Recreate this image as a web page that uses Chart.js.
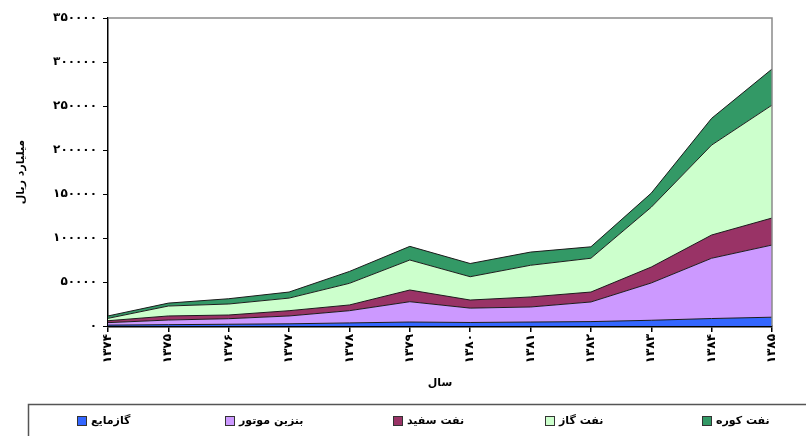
<!DOCTYPE html>
<html><head><meta charset="utf-8">
<script src="https://cdn.jsdelivr.net/npm/chart.js@4.4.1/dist/chart.umd.min.js"></script>
<style>html,body{margin:0;padding:0;background:#fff}#wrap{width:806px;height:436px;position:relative}</style>
</head><body><div id="wrap"><canvas id="c" width="806" height="436"></canvas></div>
<script>
// ---- data ----
const years = ['۱۳۷۴','۱۳۷۵','۱۳۷۶','۱۳۷۷','۱۳۷۸','۱۳۷۹','۱۳۸۰','۱۳۸۱','۱۳۸۲','۱۳۸۳','۱۳۸۴','۱۳۸۵'];
const seriesNames = ['گازمایع','بنزین موتور','نفت سفید','نفت گاز','نفت کوره'];
const lpg      = [1000,1500,2000,2500,3500,4500,4000,4500,5000,6500,8500,10000];
const gasoline = [2800,5300,6300,8900,13900,23100,16300,17100,22300,42400,68500,82000];
const kerosene = [2200,4600,4200,6000,6500,13300,9200,11400,11300,18100,26400,30700];
const gasoil   = [2700,11300,12500,14300,24600,34100,26500,36000,38400,68000,102200,128300];
const fuelOil  = [2700,3300,6000,6900,13500,15500,15000,15000,13000,16000,30400,41000];
const yTicks   = [0,50000,100000,150000,200000,250000,300000,350000];
const yTitle = 'میلیارد ریال';
const xTitle = 'سال';

const fa = s => String(s).replace(/\d/g, d => '۰۱۲۳۴۵۶۷۸۹'[d]);
const colors = ['#3366ff','#cc99ff','#993366','#ccffcc','#339966'];
const values = [lpg, gasoline, kerosene, gasoil, fuelOil];
const FONT = '"DejaVu Sans", Arial, sans-serif';

const datasets = values.map((v,i)=>({
  label: seriesNames[i], data: v,
  backgroundColor: colors[i], borderColor: '#1c1c1c', borderWidth: 1,
  fill: i===0 ? 'origin' : '-1', pointRadius: 0, tension: 0
}));

const framePlugin = {
  id: 'frame',
  afterDatasetsDraw(chart){
    const {ctx, chartArea:a} = chart;
    ctx.save();
    ctx.strokeStyle = '#8a8a8a'; ctx.lineWidth = 1.5;
    ctx.beginPath(); ctx.moveTo(a.left, a.top); ctx.lineTo(a.right, a.top); ctx.lineTo(a.right, a.bottom); ctx.stroke();
    ctx.restore();
  },
  afterDraw(chart){
    const ctx = chart.ctx;
    ctx.save();
    ctx.strokeStyle = '#555'; ctx.lineWidth = 1.5;
    ctx.strokeRect(28.5, 404.5, 800, 40);
    const xs = [77, 225, 393, 545, 702];
    const y = 421;
    ctx.font = 'bold 11px ' + FONT;
    ctx.textBaseline = 'middle'; ctx.textAlign = 'left';
    chart.data.datasets.forEach((ds,i)=>{
      ctx.fillStyle = ds.backgroundColor;
      ctx.fillRect(xs[i], y-5, 9, 9);
      ctx.strokeStyle = '#333'; ctx.lineWidth = 1;
      ctx.strokeRect(xs[i]+0.5, y-4.5, 9, 9);
      ctx.fillStyle = '#000';
      ctx.fillText(ds.label, xs[i]+14, y);
    });
    ctx.restore();
  }
};

new Chart(document.getElementById('c'), {
  type: 'line',
  data: { labels: years, datasets },
  plugins: [framePlugin],
  options: {
    responsive: false, animation: false, devicePixelRatio: 1,
    layout: { padding: { left: 0, top: 18, right: 34, bottom: 46 } },
    plugins: { legend: { display: false }, tooltip: { enabled: false } },
    scales: {
      x: {
        type: 'category', offset: false,
        grid: { drawOnChartArea: false, drawTicks: true, tickLength: 6, color: '#000', lineWidth: 1.5 },
        border: { display: true, color: '#000', width: 2.5 },
        ticks: { minRotation: 90, maxRotation: 90, autoSkip: false, padding: 2, color: '#000',
                 font: { family: FONT, size: 12, weight: 'bold' } },
        title: { display: true, text: xTitle, color: '#000', padding: { top: 0, bottom: 0 },
                 font: { family: FONT, size: 11, weight: 'bold' } },
        afterFit: s => { s.height = 64; }
      },
      y: {
        stacked: true, min: 0, max: 350000,
        afterBuildTicks: s => { s.ticks = yTicks.map(v => ({ value: v })); },
        grid: { drawOnChartArea: false, drawTicks: true, tickLength: 5, color: '#000', lineWidth: 1 },
        border: { display: true, color: '#000', width: 1.5 },
        ticks: { padding: 6, color: '#000', callback: v => fa(v),
                 font: { family: FONT, size: 12, weight: 'bold' } },
        title: { display: true, text: yTitle, color: '#000', padding: { top: 15, bottom: 0 },
                 font: { family: FONT, size: 11, weight: 'bold' } },
        afterFit: s => { s.width = 108; }
      }
    }
  }
});
</script>
</body></html>
